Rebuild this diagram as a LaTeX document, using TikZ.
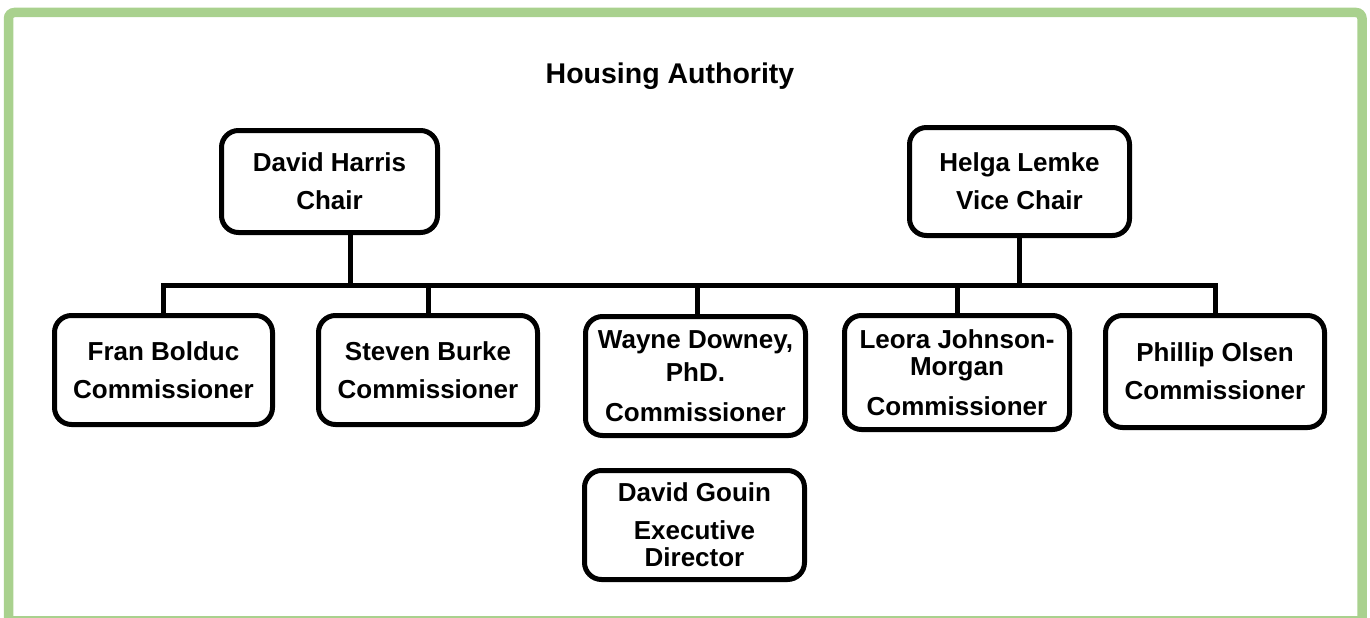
\documentclass[tikz,border=0pt]{standalone}
\usepackage{fontspec}
\setmainfont{Liberation Sans}
\definecolor{frameGreen}{HTML}{A9D18E}
\begin{document}
\begin{tikzpicture}[x=1pt,y=-1pt,
  orgbox/.style={draw=black, line width=5pt, rounded corners=17pt, fill=white,
    inner sep=0pt, align=center, font=\bfseries\fontsize{26}{27}\selectfont},
  wire/.style={draw=black, line width=5pt, line join=miter},
  titlefont/.style={font=\bfseries\fontsize{28.5}{32}\selectfont}]
\useasboundingbox (0,0) rectangle (1370,618);
\begin{scope}
\clip (0,0) rectangle (1370,618);
\draw[frameGreen, line width=9.5pt, rounded corners=6pt] (8.5,640) -- (8.5,12.5) -- (1362,12.5) -- (1362,640);
\draw[frameGreen, line width=2pt] (8.5,617) -- (1362,617);
\end{scope}

\node[titlefont, anchor=base] (title) at (670,83) {Housing Authority};

\node[orgbox, minimum width=216pt, minimum height=102pt] (harris) at (329.5,181.5) {David Harris\\[11pt]Chair};
\node[orgbox, minimum width=220pt, minimum height=108pt] (helga) at (1019.5,181.5) {Helga Lemke\\[11pt]Vice Chair};

\node[orgbox, minimum width=218pt, minimum height=109pt] (fran) at (163.5,370) {Fran Bolduc\\[11pt]Commissioner};
\node[orgbox, minimum width=219pt, minimum height=109pt] (steven) at (428,370) {Steven Burke\\[11pt]Commissioner};
\node[orgbox, minimum width=220pt, minimum height=119pt] (wayne) at (695.5,376) {Wayne Downey,\\[6pt]PhD.\\[13pt]Commissioner};
\node[orgbox, minimum width=225pt, minimum height=114pt] (leora) at (957,372.5) {Leora Johnson-\\Morgan\\[13pt]Commissioner};
\node[orgbox, minimum width=219pt, minimum height=112pt] (phillip) at (1215,371.5) {Phillip Olsen\\[11pt]Commissioner};
\node[orgbox, minimum width=220pt, minimum height=109pt] (gouin) at (694.5,525) {David Gouin\\[11pt]Executive\\Director};

\coordinate (bus) at (163,285);
\draw[wire] (fran.north) -- (fran.north |- bus) -- (phillip.north |- bus) -- (phillip.north);
\draw[wire] ([xshift=20.5pt]harris.south) -- ([xshift=20.5pt]harris.south |- bus);
\draw[wire] (helga.south) -- (helga.south |- bus);
\draw[wire] (steven.north) -- (steven.north |- bus);
\draw[wire] ([xshift=1.5pt]wayne.north) -- ([xshift=1.5pt]wayne.north |- bus);
\draw[wire] (leora.north) -- (leora.north |- bus);
\end{tikzpicture}
\end{document}
